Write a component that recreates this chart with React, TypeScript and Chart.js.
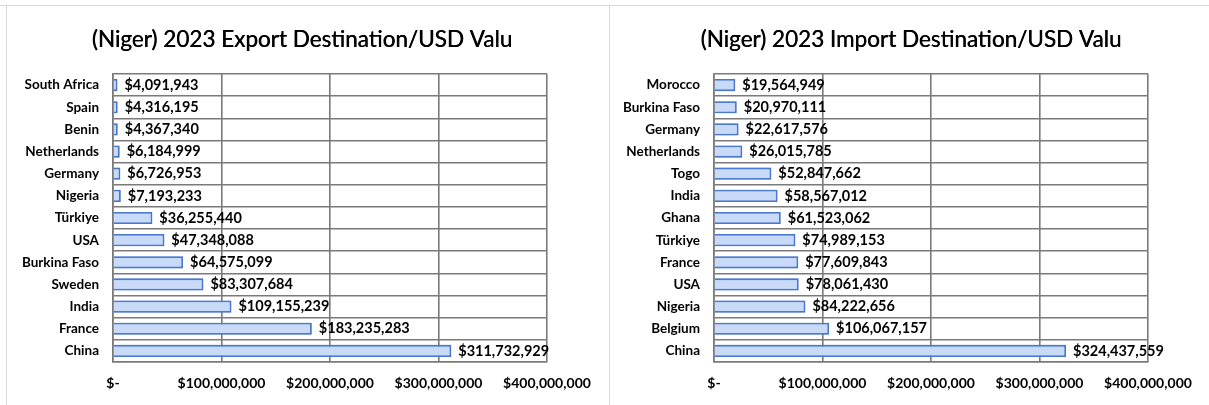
import React, { useEffect, useRef } from "react";
import { Chart, registerables } from "chart.js";

Chart.register(...registerables);

const exportCategories = ["South Africa", "Spain", "Benin", "Netherlands", "Germany", "Nigeria", "Türkiye", "USA", "Burkina Faso", "Sweden", "India", "France", "China"];
const exportValues = [4091943, 4316195, 4367340, 6184999, 6726953, 7193233, 36255440, 47348088, 64575099, 83307684, 109155239, 183235283, 311732929];

const importCategories = ["Morocco", "Burkina Faso", "Germany", "Netherlands", "Togo", "India", "Ghana", "Türkiye", "France", "USA", "Nigeria", "Belgium", "China"];
const importValues = [19564949, 20970111, 22617576, 26015785, 52847662, 58567012, 61523062, 74989153, 77609843, 78061430, 84222656, 106067157, 324437559];

const axisTicks = [0, 100000000, 200000000, 300000000, 400000000];

const exportTitle = "(Niger) 2023 Export Destination/USD Valu";
const importTitle = "(Niger) 2023 Import Destination/USD Valu";

const FONT = "Lato, 'Open Sans', sans-serif";

function fmt(v: number): string {
  if (v === 0) return "$-";
  return "$" + v.toLocaleString("en-US");
}

type PanelProps = {
  title: string;
  labels: string[];
  values: number[];
  left: number;
  width: number;
  plotLeft: number;
  plotRight: number;
  titleX: number;
};

function Panel({ title, labels, values, left, width, plotLeft, plotRight, titleX }: PanelProps) {
  const ref = useRef<HTMLCanvasElement | null>(null);
  useEffect(() => {
    if (!ref.current) return;
    const titlePlugin = {
      id: "customTitle",
      afterDraw(chart: any) {
        const ctx = chart.ctx;
        ctx.save();
        ctx.font = `400 22.5px ${FONT}`;
        ctx.fillStyle = "#000";
        ctx.textAlign = "center";
        ctx.textBaseline = "middle";
        ctx.fillText(title, titleX, 40);
        ctx.fillText(title, titleX + 0.4, 40);
        ctx.restore();
      },
    };
    const glowPlugin = {
      id: "glow",
      beforeDatasetsDraw(chart: any) {
        const ctx = chart.ctx;
        ctx.save();
        ctx.shadowColor = "rgba(100,145,235,0.7)";
        ctx.shadowBlur = 7;
      },
      afterDatasetsDraw(chart: any) {
        chart.ctx.restore();
      },
    };
    const labelPlugin = {
      id: "valueLabels",
      afterDatasetsDraw(chart: any) {
        const ctx = chart.ctx;
        const meta = chart.getDatasetMeta(0);
        const data = chart.data.datasets[0].data as number[];
        ctx.save();
        ctx.font = `700 14.5px ${FONT}`;
        ctx.fillStyle = "#000";
        ctx.textAlign = "left";
        ctx.textBaseline = "middle";
        meta.data.forEach((el: any, i: number) => {
          ctx.fillText(fmt(data[i]), el.x + 7, el.y);
        });
        ctx.restore();
      },
    };
    const H = 405;
    const top = 74;
    const bottom = 362;
    const chart = new Chart(ref.current, {
      type: "bar",
      data: {
        labels,
        datasets: [
          {
            data: values,
            backgroundColor: "#c9daf8",
            borderColor: "#4472c4",
            borderWidth: 1.8,
            barPercentage: 0.55,
            categoryPercentage: 1,
          },
        ],
      },
      options: {
        indexAxis: "y",
        animation: false,
        responsive: false,
        maintainAspectRatio: false,
        layout: { padding: { left: 0, right: width - plotRight, top: top, bottom: 0 } },
        plugins: { legend: { display: false }, title: { display: false }, tooltip: { enabled: false } },
        scales: {
          x: {
            min: 0,
            max: 400000000,
            afterBuildTicks(scale: any) {
              scale.ticks = axisTicks.map((v) => ({ value: v }));
            },
            afterFit(scale: any) {
              scale.height = H - bottom;
            },
            ticks: {
              maxRotation: 0,
              autoSkip: false,
              padding: 13,
              color: "#000",
              font: { family: FONT, size: 14, weight: "bold" },
              callback: (v: any) => fmt(Number(v)),
            },
            grid: { color: "#7a7a7a", lineWidth: 1.6, drawTicks: false },
            border: { color: "#7a7a7a", width: 1.6 },
          },
          y: {
            afterFit(scale: any) {
              scale.width = plotLeft;
            },
            ticks: {
              padding: 14,
              color: "#000",
              autoSkip: false,
              font: { family: FONT, size: 13.5, weight: "bold" },
            },
            grid: { color: "#7a7a7a", lineWidth: 1.6, drawTicks: false, offset: true },
            border: { color: "#7a7a7a", width: 1.6 },
          },
        },
      },
      plugins: [glowPlugin, labelPlugin, titlePlugin],
    });
    return () => chart.destroy();
  }, []);
  return (
    <canvas
      ref={ref}
      width={width}
      height={405}
      style={{ position: "absolute", left, top: 0, width, height: 405 }}
    />
  );
}

export default function App() {
  return (
    <div style={{ position: "absolute", left: 0, top: 0, width: 1209, height: 405, background: "#fff", overflow: "hidden" }}>
      <div style={{ position: "absolute", left: 0, top: 5, width: 1209, height: 1, background: "#d9d9d9" }} />
      <div style={{ position: "absolute", left: 6, top: 5, width: 1, height: 400, background: "#d9d9d9" }} />
      <div style={{ position: "absolute", left: 609, top: 5, width: 1, height: 400, background: "#d9d9d9" }} />
      <Panel title={exportTitle} labels={exportCategories} values={exportValues} left={0} width={609} plotLeft={113} plotRight={547} titleX={302} />
      <Panel title={importTitle} labels={importCategories} values={importValues} left={610} width={599} plotLeft={104} plotRight={538} titleX={301} />
    </div>
  );
}
